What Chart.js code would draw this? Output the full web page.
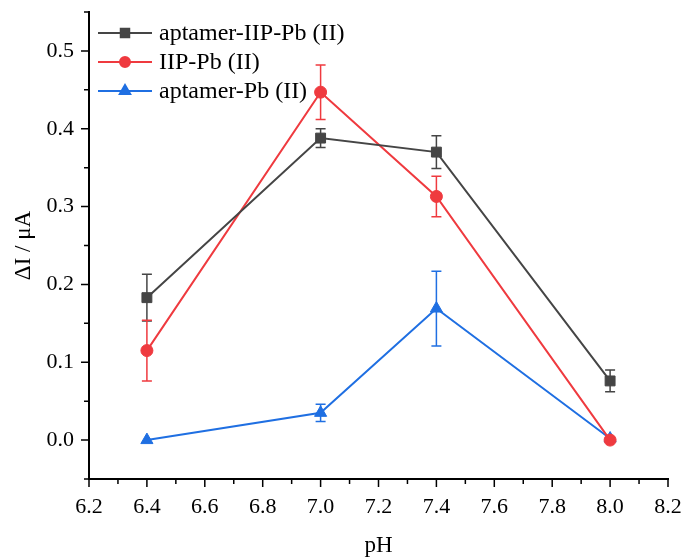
<!DOCTYPE html>
<html>
<head>
<meta charset="utf-8">
<script src="https://cdn.jsdelivr.net/npm/chart.js@4.4.0/dist/chart.umd.min.js"></script>
<style>
  html, body { margin: 0; padding: 0; background: #fff; }
  #wrap { width: 683px; height: 557px; }
</style>
</head>
<body>
<div id="wrap"><canvas id="chart"></canvas></div>
<script>
// pH response data
const phValues = [6.4, 7.0, 7.4, 8.0];
const aptIipPb = [0.183, 0.388, 0.370, 0.076];
const aptIipPbErr = [0.030, 0.012, 0.021, 0.014];
const iipPb = [0.115, 0.447, 0.313, 0.0];
const iipPbErr = [0.039, 0.035, 0.026, 0];
const aptPb = [0.0, 0.035, 0.169, 0.002];
const aptPbErr = [0, 0.011, 0.048, 0];

const xTicks = [6.2, 6.4, 6.6, 6.8, 7.0, 7.2, 7.4, 7.6, 7.8, 8.0, 8.2];
const yTicks = [0.0, 0.1, 0.2, 0.3, 0.4, 0.5];

const FONT = '"Liberation Serif", "Times New Roman", serif';

function points(ys) {
  return phValues.map((x, i) => ({ x, y: ys[i] }));
}

// error bars, drawn behind the markers
const errorBars = {
  id: 'errorBars',
  beforeDatasetsDraw(chart) {
    const { ctx, scales: { x, y } } = chart;
    ctx.save();
    chart.data.datasets.forEach(ds => {
      ctx.strokeStyle = ds.borderColor;
      ctx.lineWidth = 1.5;
      ds.data.forEach((p, i) => {
        const e = ds.errors[i];
        if (!e) return;
        const px = x.getPixelForValue(p.x);
        const top = y.getPixelForValue(p.y + e);
        const bot = y.getPixelForValue(p.y - e);
        ctx.beginPath();
        ctx.moveTo(px, top); ctx.lineTo(px, bot);
        ctx.moveTo(px - 5, top); ctx.lineTo(px + 5, top);
        ctx.moveTo(px - 5, bot); ctx.lineTo(px + 5, bot);
        ctx.stroke();
      });
    });
    ctx.restore();
  }
};

// outward major + minor tick marks, and the legend
const decorations = {
  id: 'decorations',
  afterDraw(chart) {
    const { ctx, chartArea: a, scales: { x, y } } = chart;
    ctx.save();
    ctx.strokeStyle = '#000';
    ctx.lineWidth = 1.5;
    ctx.beginPath();
    xTicks.forEach((t, i) => {
      const px = x.getPixelForValue(t);
      ctx.moveTo(px, a.bottom); ctx.lineTo(px, a.bottom + 8);
      if (i < xTicks.length - 1) {
        const mx = x.getPixelForValue((t + xTicks[i + 1]) / 2);
        ctx.moveTo(mx, a.bottom); ctx.lineTo(mx, a.bottom + 5);
      }
    });
    yTicks.forEach(t => {
      const py = y.getPixelForValue(t);
      ctx.moveTo(a.left, py); ctx.lineTo(a.left - 8, py);
      const my = y.getPixelForValue(t + 0.05);
      ctx.moveTo(a.left, my); ctx.lineTo(a.left - 5, my);
    });
    const my0 = y.getPixelForValue(yTicks[0] - 0.05);
    ctx.moveTo(a.left, my0); ctx.lineTo(a.left - 5, my0);
    ctx.stroke();

    // legend
    ctx.font = '24px ' + FONT;
    ctx.textBaseline = 'middle';
    ctx.textAlign = 'left';
    chart.data.datasets.forEach((ds, i) => {
      const ly = a.top + 21 + i * 29;
      const lx = a.left + 9;
      ctx.strokeStyle = ds.borderColor;
      ctx.lineWidth = 2;
      ctx.beginPath();
      ctx.moveTo(lx, ly); ctx.lineTo(lx + 54, ly);
      ctx.stroke();
      Chart.helpers.drawPoint(ctx, {
        pointStyle: ds.pointStyle, radius: ds.legendRadius, rotation: 0, borderWidth: 1
      }, lx + 27, ly);
      ctx.fillStyle = ds.borderColor;
      ctx.fill();
      ctx.fillStyle = '#000';
      ctx.fillText(ds.label, lx + 61, ly + 1);
    });
    ctx.restore();
  }
};

function series(label, ys, errs, color, style, r) {
  return {
    label, data: points(ys), errors: errs,
    borderColor: color, backgroundColor: color,
    pointBackgroundColor: color, pointBorderColor: color,
    borderWidth: 2, pointStyle: style, pointRadius: r, pointHoverRadius: r,
    pointBorderWidth: 1, legendRadius: r - 1, tension: 0
  };
}

new Chart(document.getElementById('chart'), {
  type: 'line',
  data: {
    datasets: [
      series('aptamer-IIP-Pb (II)', aptIipPb, aptIipPbErr, '#454545', 'rect', 7),
      series('IIP-Pb (II)', iipPb, iipPbErr, '#ef3a3f', 'circle', 6),
      series('aptamer-Pb (II)', aptPb, aptPbErr, '#1f6fe2', 'triangle', 7)
    ]
  },
  options: {
    responsive: true,
    maintainAspectRatio: false,
    animation: false,
    layout: { padding: { top: 12, right: 15, left: 0, bottom: 0 } },
    plugins: { legend: { display: false }, tooltip: { enabled: false } },
    scales: {
      x: {
        type: 'linear', min: 6.2, max: 8.2,
        afterBuildTicks: s => { s.ticks = xTicks.map(v => ({ value: v })); },
        afterFit: s => { s.height = 78; s.paddingLeft = 0; s.paddingRight = 0; },
        grid: { display: false, drawTicks: false },
        border: { display: true, color: '#000', width: 2 },
        ticks: {
          color: '#000', padding: 15, maxRotation: 0,
          font: { family: FONT, size: 22 },
          callback: v => v.toFixed(1)
        },
        title: {
          display: true, text: 'pH', color: '#000',
          font: { family: FONT, size: 23, lineHeight: 1 }, padding: { top: 0, bottom: 0 }
        }
      },
      y: {
        type: 'linear', min: -0.05, max: 0.55,
        afterBuildTicks: s => { s.ticks = yTicks.map(v => ({ value: v })); },
        afterFit: s => { s.width = 89; s.paddingTop = 0; s.paddingBottom = 0; },
        grid: { display: false, drawTicks: false },
        border: { display: true, color: '#000', width: 2 },
        ticks: {
          color: '#000', padding: 15,
          font: { family: FONT, size: 22 },
          callback: v => v.toFixed(1)
        },
        title: {
          display: true, text: 'ΔI / μA', color: '#000',
          font: { family: FONT, size: 23, lineHeight: 1 }, padding: { top: 12, bottom: 0 }
        }
      }
    }
  },
  plugins: [errorBars, decorations]
});
</script>
</body>
</html>
